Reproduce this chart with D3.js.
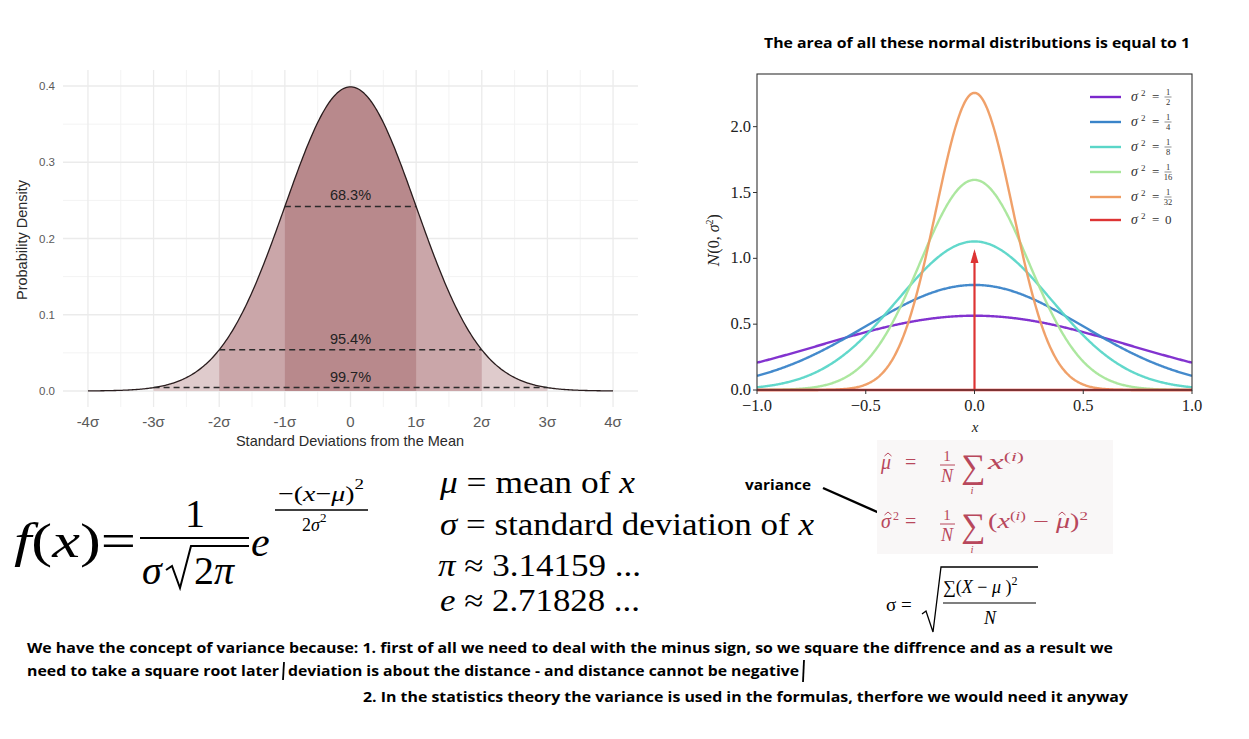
<!DOCTYPE html>
<html><head><meta charset="utf-8">
<script src="https://cdn.jsdelivr.net/npm/d3@7"></script>
<style>
html,body{margin:0;padding:0;background:#fff;}
svg{display:block;}
</style></head>
<body>
<svg id="c" width="1249" height="739"></svg>
<script>
// ---------- data ----------
const sigmaTicks = [-4, -3, -2, -1, 0, 1, 2, 3, 4];
const sigmaLabels = ["-4σ", "-3σ", "-2σ", "-1σ", "0", "1σ", "2σ", "3σ", "4σ"];
const densityTicks = [0, 0.1, 0.2, 0.3, 0.4];
const bandWidths = [3, 2, 1];                 // ± sigma
const bandPercents = ["99.7%", "95.4%", "68.3%"];
const bandColors = ["#dfcbcc", "#caa6a9", "#b8898c"];

const variances = [1/2, 1/4, 1/8, 1/16, 1/32, 0];
const varNum = ["1", "1", "1", "1", "1", null];
const varDen = ["2", "4", "8", "16", "32", null];
const varColors = ["#7b28cc", "#3a84c9", "#5ad6c8", "#a8e69a", "#ef9c62", "#dd3434"];
const rightXTicks = [-1, -0.5, 0, 0.5, 1];
const rightXLabels = ["\u22121.0", "\u22120.5", "0.0", "0.5", "1.0"];
const rightYTicks = [0, 0.5, 1, 1.5, 2];
const rightYLabels = ["0.0", "0.5", "1.0", "1.5", "2.0"];
const deltaArrowTop = 1.07;

const noteLines = [
  "We have the concept of variance because: 1. first of all we need to deal with the minus sign, so we square the diffrence and as a result we",
  "need to take a square root later",
  "deviation is about the distance - and distance cannot be negative",
  "2. In the statistics theory the variance is used in the formulas, therfore we would need it anyway"
];

// normal density (the plotted function)
function density(x, v) { return Math.exp(-x * x / (2 * v)) / Math.sqrt(2 * Math.PI * v); }

const svg = d3.select("#c");

// ---------- left chart ----------
{
  const x = d3.scaleLinear([-4.38, 4.38], [63, 638]);
  const y = d3.scaleLinear([-0.021, 0.421], [407, 70]);
  const g = svg.append("g").attr("font-family", "Liberation Sans, Arial, sans-serif");
  const minorX = d3.range(-4, 4.01, 0.5).filter(v => v % 1 !== 0);
  const minorY = [0.05, 0.15, 0.25, 0.35];
  g.selectAll(".gmx").data(minorX).join("line")
    .attr("x1", d => x(d)).attr("x2", d => x(d)).attr("y1", 70).attr("y2", 407)
    .attr("stroke", "#f3f3f3").attr("stroke-width", 1);
  g.selectAll(".gmy").data(minorY).join("line")
    .attr("y1", d => y(d)).attr("y2", d => y(d)).attr("x1", 63).attr("x2", 638)
    .attr("stroke", "#f3f3f3").attr("stroke-width", 1);
  g.selectAll(".gx").data(sigmaTicks).join("line")
    .attr("x1", d => x(d)).attr("x2", d => x(d)).attr("y1", 70).attr("y2", 407)
    .attr("stroke", "#ebebeb").attr("stroke-width", 1.3);
  g.selectAll(".gy").data(densityTicks).join("line")
    .attr("y1", d => y(d)).attr("y2", d => y(d)).attr("x1", 63).attr("x2", 638)
    .attr("stroke", "#ebebeb").attr("stroke-width", 1.3);

  bandWidths.forEach((w, i) => {
    const pts = d3.range(-w, w + 0.0001, 0.02);
    const area = d3.area().x(d => x(d)).y0(y(0)).y1(d => y(density(d, 1)));
    g.append("path").attr("d", area(pts)).attr("fill", bandColors[i]);
  });
  const pts = d3.range(-4, 4.0001, 0.02);
  g.append("path").attr("d", d3.line().x(d => x(d)).y(d => y(density(d, 1)))(pts))
    .attr("fill", "none").attr("stroke", "#2a1d1e").attr("stroke-width", 1.3);
  bandWidths.forEach((w, i) => {
    const yy = y(density(w, 1));
    g.append("line").attr("x1", x(-w)).attr("x2", x(w)).attr("y1", yy).attr("y2", yy)
      .attr("stroke", "#2b2b2b").attr("stroke-width", 1.5).attr("stroke-dasharray", "6,4");
    g.append("text").attr("x", x(0)).attr("y", yy - 6).attr("text-anchor", "middle")
      .attr("font-size", 14.5).attr("fill", "#222").text(bandPercents[i]);
  });
  g.selectAll(".tx").data(sigmaTicks).join("text")
    .attr("x", d => x(d)).attr("y", 427).attr("text-anchor", "middle")
    .attr("font-size", 15).attr("fill", "#5a5a5a").text((d, i) => sigmaLabels[i]);
  g.selectAll(".ty").data(densityTicks).join("text")
    .attr("x", 55).attr("y", d => y(d) + 4).attr("text-anchor", "end")
    .attr("font-size", 11.5).attr("fill", "#5a5a5a").text(d => d.toFixed(1));
  g.append("text").attr("x", 350).attr("y", 446).attr("text-anchor", "middle")
    .attr("font-size", 14.5).attr("fill", "#2a2a2a").text("Standard Deviations from the Mean");
  g.append("text").attr("transform", "translate(27,240) rotate(-90)").attr("text-anchor", "middle")
    .attr("font-size", 14.5).attr("fill", "#2a2a2a").text("Probability Density");
}

// ---------- right chart ----------
{
  const L = 757, R = 1192, T = 74, B = 390;
  const x = d3.scaleLinear([-1, 1], [L, R]);
  const y = d3.scaleLinear([0, 2.4], [B, T]);
  const g = svg.append("g").attr("font-family", "Liberation Serif, Times New Roman, serif");
  svg.append("text").attr("x", 977).attr("y", 48).attr("text-anchor", "middle")
    .attr("font-family", "Open Sans, sans-serif").attr("font-weight", "bold").attr("font-size", 15)
    .attr("textLength", 426).attr("lengthAdjust", "spacingAndGlyphs").attr("fill", "#000")
    .text("The area of all these normal distributions is equal to 1");

  svg.append("clipPath").attr("id", "rc").append("rect")
    .attr("x", L).attr("y", T).attr("width", R - L).attr("height", B - T + 2);
  const pg = g.append("g").attr("clip-path", "url(#rc)");
  const xs = d3.range(-1, 1.0001, 0.004);
  variances.forEach((v, i) => {
    if (v === 0) return;
    pg.append("path").attr("d", d3.line().x(d => x(d)).y(d => y(density(d, v)))(xs))
      .attr("fill", "none").attr("stroke", varColors[i]).attr("stroke-width", 2.4).attr("opacity", 0.95);
  });
  const red = varColors[5];
  pg.append("line").attr("x1", L).attr("x2", R).attr("y1", y(0)).attr("y2", y(0))
    .attr("stroke", red).attr("stroke-width", 2.4);
  pg.append("line").attr("x1", x(0)).attr("x2", x(0)).attr("y1", y(0)).attr("y2", y(deltaArrowTop) + 4)
    .attr("stroke", red).attr("stroke-width", 2.2);
  pg.append("path").attr("d", `M${x(0)},${y(deltaArrowTop)} L${x(0) - 4},${y(deltaArrowTop) + 14} L${x(0) + 4},${y(deltaArrowTop) + 14} Z`)
    .attr("fill", red);

  g.append("rect").attr("x", L).attr("y", T).attr("width", R - L).attr("height", B - T)
    .attr("fill", "none").attr("stroke", "#333").attr("stroke-width", 1.1);
  g.selectAll(".xt").data(rightXTicks).join("line")
    .attr("x1", d => x(d)).attr("x2", d => x(d)).attr("y1", B).attr("y2", B + 4).attr("stroke", "#333");
  g.selectAll(".yt").data(rightYTicks).join("line")
    .attr("y1", d => y(d)).attr("y2", d => y(d)).attr("x1", L).attr("x2", L - 4).attr("stroke", "#333");
  g.selectAll(".xl").data(rightXTicks).join("text")
    .attr("x", d => x(d)).attr("y", 411).attr("text-anchor", "middle").attr("font-size", 16.5)
    .attr("fill", "#222").text((d, i) => rightXLabels[i]);
  g.selectAll(".yl").data(rightYTicks).join("text")
    .attr("x", L - 6).attr("y", d => y(d) + 5).attr("text-anchor", "end").attr("font-size", 16.5)
    .attr("fill", "#222").text((d, i) => rightYLabels[i]);
  g.append("text").attr("x", 975).attr("y", 432).attr("text-anchor", "middle").attr("font-style", "italic")
    .attr("font-size", 15).attr("fill", "#222").text("x");
  const yl = g.append("text").attr("transform", "translate(719,240) rotate(-90)").attr("text-anchor", "middle")
    .attr("font-size", 16).attr("fill", "#222");
  yl.append("tspan").attr("font-style", "italic").attr("font-family", "DejaVu Serif, serif").attr("font-size", 14).text("N");
  yl.append("tspan").text("(0, ");
  yl.append("tspan").attr("font-style", "italic").text("σ");
  yl.append("tspan").attr("font-size", 10).attr("dy", -6).text("2");
  yl.append("tspan").attr("dy", 6).text(")");

  // legend
  const rowsY = [97, 122, 147, 172, 197, 220];
  variances.forEach((v, i) => {
    const ry = rowsY[i];
    g.append("line").attr("x1", 1090).attr("x2", 1121).attr("y1", ry).attr("y2", ry)
      .attr("stroke", varColors[i]).attr("stroke-width", 2.4);
    g.append("text").attr("x", 1131).attr("y", ry + 4).attr("font-size", 14).attr("font-style", "italic")
      .attr("fill", "#333").text("σ");
    g.append("text").attr("x", 1141).attr("y", ry - 1).attr("font-size", 9).attr("fill", "#333").text("2");
    g.append("text").attr("x", 1152).attr("y", ry + 4).attr("font-size", 13).attr("fill", "#333").text("=");
    if (varNum[i] === null) {
      g.append("text").attr("x", 1165).attr("y", ry + 4).attr("font-size", 13).attr("fill", "#333").text("0");
    } else {
      const fx = 1168;
      g.append("text").attr("x", fx).attr("y", ry - 2).attr("text-anchor", "middle").attr("font-size", 8.5)
        .attr("fill", "#333").text(varNum[i]);
      g.append("line").attr("x1", fx - 3.5).attr("x2", fx + 3.5).attr("y1", ry).attr("y2", ry)
        .attr("stroke", "#444").attr("stroke-width", 0.6);
      g.append("text").attr("x", fx).attr("y", ry + 8).attr("text-anchor", "middle").attr("font-size", 8.5)
        .attr("fill", "#333").text(varDen[i]);
    }
  });
}

// ---------- formulas ----------
{
  const g = svg.append("g").attr("font-family", "Liberation Serif, Times New Roman, serif").attr("fill", "#000");
  const fx = g.append("text").attr("x", 14).attr("y", 557).attr("font-size", 48)
    .attr("textLength", 122).attr("lengthAdjust", "spacingAndGlyphs");
  fx.append("tspan").attr("font-style", "italic").text("f");
  fx.append("tspan").text("(");
  fx.append("tspan").attr("font-style", "italic").text("x");
  fx.append("tspan").text(")=");
  g.append("text").attr("x", 195).attr("y", 527).attr("text-anchor", "middle").attr("font-size", 40).text("1");
  g.append("line").attr("x1", 140).attr("x2", 249).attr("y1", 538).attr("y2", 538).attr("stroke", "#000").attr("stroke-width", 2.2);
  g.append("text").attr("x", 142).attr("y", 584).attr("font-size", 40).attr("font-style", "italic").text("σ");
  g.append("path").attr("d", "M166,570 L172,566 L180,588 L191,546 L249,546").attr("fill", "none").attr("stroke", "#000").attr("stroke-width", 2);
  const den = g.append("text").attr("x", 194).attr("y", 584).attr("font-size", 40);
  den.append("tspan").text("2");
  den.append("tspan").attr("font-style", "italic").text("π");
  g.append("text").attr("x", 251).attr("y", 556).attr("font-size", 42).attr("font-style", "italic").text("e");
  const en = g.append("text").attr("x", 278).attr("y", 501).attr("font-size", 22)
    .attr("textLength", 86).attr("lengthAdjust", "spacingAndGlyphs");
  en.append("tspan").text("−(");
  en.append("tspan").attr("font-style", "italic").text("x");
  en.append("tspan").text("−");
  en.append("tspan").attr("font-style", "italic").text("μ");
  en.append("tspan").text(")");
  en.append("tspan").attr("font-size", 15).attr("dy", -12).text("2");
  g.append("line").attr("x1", 275).attr("x2", 368).attr("y1", 510).attr("y2", 510).attr("stroke", "#000").attr("stroke-width", 1.4);
  const ed = g.append("text").attr("x", 302).attr("y", 531).attr("font-size", 18);
  ed.append("tspan").text("2");
  ed.append("tspan").attr("font-style", "italic").text("σ");
  ed.append("tspan").attr("font-size", 13).attr("dy", -9).text("2");

  const defs = [
    [["μ", true], [" = ", false], [" mean of ", false], ["x", true], 440, 493, 195],
    [["σ", true], [" = ", false], [" standard deviation of ", false], ["x", true], 440, 535, 374],
    [["π", true], [" ≈ ", false], [" 3.14159 ...", false], null, 438, 576, 203],
    [["e", true], [" ≈ ", false], [" 2.71828 ...", false], null, 440, 611, 200]
  ];
  defs.forEach(d => {
    const t = g.append("text").attr("x", d[4]).attr("y", d[5]).attr("font-size", 31)
      .attr("textLength", d[6]).attr("lengthAdjust", "spacingAndGlyphs");
    [d[0], d[1], d[2], d[3]].forEach(p => { if (p) t.append("tspan").attr("font-style", p[1] ? "italic" : "normal").text(p[0]); });
  });

  svg.append("text").attr("x", 745).attr("y", 490).attr("font-family", "Open Sans, sans-serif").attr("font-weight", "bold")
    .attr("font-size", 14).attr("textLength", 66).attr("lengthAdjust", "spacingAndGlyphs").text("variance");
  svg.append("line").attr("x1", 823).attr("y1", 488).attr("x2", 884).attr("y2", 515).attr("stroke", "#000").attr("stroke-width", 2.4);

  // red estimator formulas
  svg.append("rect").attr("x", 877).attr("y", 440).attr("width", 236).attr("height", 114).attr("fill", "#f9f7f7");
  const rc = "#b8485c";
  const rg = svg.append("g").attr("font-family", "Liberation Serif, Times New Roman, serif").attr("fill", rc);
  function hat(cx, ty) {
    rg.append("path").attr("d", `M${cx - 3.5},${ty + 3} L${cx},${ty} L${cx + 3.5},${ty + 3}`)
      .attr("fill", "none").attr("stroke", rc).attr("stroke-width", 1);
  }
  function estimator(by, lhs, sup, rhs, rhsLen) {
    rg.append("text").attr("x", 881).attr("y", by).attr("font-size", 20).attr("font-style", "italic").text(lhs);
    hat(888, by - 16);
    if (sup) rg.append("text").attr("x", 893).attr("y", by - 8).attr("font-size", 12).text("2");
    rg.append("text").attr("x", 905).attr("y", by).attr("font-size", 20).text("=");
    rg.append("text").attr("x", 947).attr("y", by - 8).attr("text-anchor", "middle").attr("font-size", 15).text("1");
    rg.append("line").attr("x1", 940).attr("x2", 955).attr("y1", by - 4).attr("y2", by - 4).attr("stroke", rc).attr("stroke-width", 1);
    rg.append("text").attr("x", 947).attr("y", by + 13).attr("text-anchor", "middle").attr("font-size", 18).attr("font-style", "italic").text("N");
    rg.append("text").attr("x", 973).attr("y", by + 9).attr("text-anchor", "middle").attr("font-size", 34).text("∑");
    rg.append("text").attr("x", 972).attr("y", by + 25).attr("text-anchor", "middle").attr("font-size", 11).attr("font-style", "italic").text("i");
    const r = rg.append("text").attr("x", 988).attr("y", by).attr("font-size", 20)
      .attr("textLength", rhsLen).attr("lengthAdjust", "spacingAndGlyphs");
    rhs.forEach(p => {
      const s = r.append("tspan").attr("font-style", p[1] ? "italic" : "normal").attr("font-size", p[2] || 20);
      if (p[3] !== undefined) s.attr("dy", p[3]);
      s.text(p[0]);
    });
  }
  estimator(469, "μ", false, [["x", true], ["(", false, 12, -8], ["i", true, 12], [")", false, 12]], 36);
  estimator(528, "σ", true, [["(", false], ["x", true], ["(", false, 12, -8], ["i", true, 12], [")", false, 12], [" − ", false, 20, 8], ["μ", true], [")", false], ["2", false, 12, -8]], 100);
  hat(1062, 512);

  const sg = svg.append("g").attr("font-family", "Liberation Serif, Times New Roman, serif").attr("fill", "#000");
  sg.append("text").attr("x", 886).attr("y", 611).attr("font-size", 19).text("σ  =");
  sg.append("path").attr("d", "M922,614 L926,611 L933,632 L941,567 L1038,567").attr("fill", "none").attr("stroke", "#000").attr("stroke-width", 1.3);
  const sn = sg.append("text").attr("x", 943).attr("y", 593).attr("font-size", 18);
  sn.append("tspan").text("∑(");
  sn.append("tspan").attr("font-style", "italic").text("X");
  sn.append("tspan").text(" − ");
  sn.append("tspan").attr("font-style", "italic").text("μ");
  sn.append("tspan").text(" )");
  sn.append("tspan").attr("font-size", 12).attr("dy", -8).text("2");
  sg.append("line").attr("x1", 943).attr("x2", 1036).attr("y1", 603).attr("y2", 603).attr("stroke", "#000").attr("stroke-width", 1.2);
  sg.append("text").attr("x", 990).attr("y", 624).attr("text-anchor", "middle").attr("font-size", 18).attr("font-style", "italic").text("N");
}

// ---------- notes ----------
{
  const g = svg.append("g").attr("font-family", "Open Sans, sans-serif").attr("font-weight", "bold").attr("font-size", 15).attr("fill", "#000");
  const specs = [[27, 653, 1086], [27, 676, 252], [288, 676, 511], [363, 702, 765]];
  noteLines.forEach((s, i) => {
    g.append("text").attr("x", specs[i][0]).attr("y", specs[i][1]).attr("textLength", specs[i][2])
      .attr("lengthAdjust", "spacingAndGlyphs").text(s);
  });
  g.append("line").attr("x1", 284).attr("x2", 283).attr("y1", 662).attr("y2", 680).attr("stroke", "#000").attr("stroke-width", 1.8);
  g.append("line").attr("x1", 804).attr("x2", 803).attr("y1", 660).attr("y2", 682).attr("stroke", "#000").attr("stroke-width", 1.8);
}
</script>
</body></html>
